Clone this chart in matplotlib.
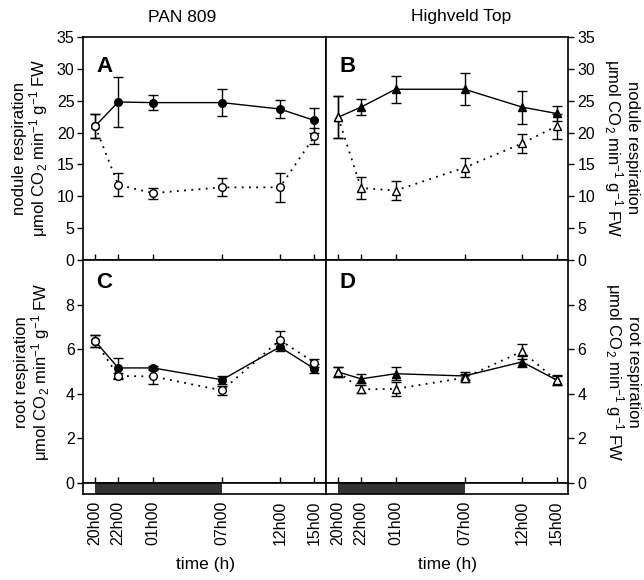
import matplotlib
matplotlib.use('Agg')
import matplotlib.pyplot as plt
from matplotlib.patches import Rectangle

plt.rcParams['font.family'] = ['Liberation Sans', 'DejaVu Sans']
plt.rcParams['mathtext.fontset'] = 'custom'
plt.rcParams['mathtext.rm'] = 'Liberation Sans'
plt.rcParams['mathtext.it'] = 'Liberation Sans:italic'
plt.rcParams['mathtext.bf'] = 'Liberation Sans:bold'

# ---------------- data ----------------
times = ['20h00', '22h00', '01h00', '07h00', '12h00', '15h00']
hours = [0, 2, 5, 11, 16, 19]          # hours after 20h00
dark_period = (0, 11)                   # 20h00 -> 07h00

titles = ['PAN 809', 'Highveld Top']
panel_letters = ['A', 'B', 'C', 'D']

pan_nod_fill = [21.0, 24.8, 24.7, 24.7, 23.7, 21.9]
pan_nod_fill_err = [1.9, 4.0, 1.2, 2.1, 1.35, 1.9]
pan_nod_open = [21.0, 11.8, 10.5, 11.4, 11.4, 19.4]
pan_nod_open_err = [1.9, 1.8, 0.85, 1.4, 2.3, 1.25]

hv_nod_fill = [22.4, 24.0, 26.8, 26.8, 24.0, 23.0]
hv_nod_fill_err = [3.3, 1.3, 2.1, 2.5, 2.6, 1.15]
hv_nod_open = [22.4, 11.3, 10.9, 14.5, 18.3, 21.0]
hv_nod_open_err = [3.3, 1.7, 1.5, 1.55, 1.5, 1.95]

pan_root_fill = [6.36, 5.16, 5.16, 4.63, 6.10, 5.12]
pan_root_fill_err = [0.27, 0.45, 0.10, 0.17, 0.20, 0.20]
pan_root_open = [6.36, 4.80, 4.78, 4.15, 6.41, 5.40]
pan_root_open_err = [0.27, 0.15, 0.35, 0.20, 0.42, 0.18]

hv_root_fill = [4.98, 4.67, 4.90, 4.80, 5.43, 4.62]
hv_root_fill_err = [0.23, 0.20, 0.30, 0.20, 0.25, 0.22]
hv_root_open = [4.98, 4.20, 4.22, 4.72, 5.90, 4.60]
hv_root_open_err = [0.23, 0.18, 0.30, 0.18, 0.33, 0.20]

nod_label = 'nodule respiration\nμmol CO$_2$ min$^{-1}$ g$^{-1}$ FW'
root_label = 'root respiration\nμmol CO$_2$ min$^{-1}$ g$^{-1}$ FW'

# ---------------- layout ----------------
W, H = 644, 580
fig = plt.figure(figsize=(W / 100, H / 100), dpi=100)


def rect(l, t, r, b):
    return [l / W, 1 - b / H, (r - l) / W, (b - t) / H]


axA = fig.add_axes(rect(83, 37, 326, 260))
axB = fig.add_axes(rect(326, 37, 568, 260))
axC = fig.add_axes(rect(83, 260, 326, 483))
axD = fig.add_axes(rect(326, 260, 568, 483))
stA = fig.add_axes(rect(83, 483, 326, 494))
stB = fig.add_axes(rect(326, 483, 568, 494))

XL = (-1.05, 20.0)
LW = 1.2
FS = 11.5


def draw(ax, yf, ef, yo, eo, marker):
    ax.errorbar(hours, yf, yerr=ef, fmt='-', marker=marker, color='k',
                mfc='k', mec='k', ms=5.5, lw=1.0, capsize=3.5,
                elinewidth=1.0, capthick=1.0, zorder=3, clip_on=False)
    ax.errorbar(hours, yo, yerr=eo, linestyle=(0, (1, 3)), marker=marker,
                color='k', mfc='white', mec='k', ms=5.5, mew=1.0, lw=1.3,
                capsize=3.5, elinewidth=1.0, capthick=1.0, zorder=4,
                clip_on=False)


draw(axA, pan_nod_fill, pan_nod_fill_err, pan_nod_open, pan_nod_open_err, 'o')
draw(axB, hv_nod_fill, hv_nod_fill_err, hv_nod_open, hv_nod_open_err, '^')
draw(axC, pan_root_fill, pan_root_fill_err, pan_root_open, pan_root_open_err, 'o')
draw(axD, hv_root_fill, hv_root_fill_err, hv_root_open, hv_root_open_err, '^')

for ax in (axA, axB, axC, axD):
    ax.set_xlim(*XL)
    ax.set_xticks(hours)
    ax.tick_params(axis='x', direction='in', length=4, width=1.0,
                   labelbottom=False, top=False)
    for s in ax.spines.values():
        s.set_linewidth(LW)

for ax in (axA, axB):
    ax.set_ylim(0, 35)
    ax.set_yticks(range(0, 36, 5))
for ax in (axC, axD):
    ax.set_ylim(0, 10)
    ax.set_yticks([0, 2, 4, 6, 8])

for ax in (axA, axC):
    ax.tick_params(axis='y', direction='out', length=4, width=1.0, pad=2,
                   labelsize=FS, left=True, right=False)
for ax in (axB, axD):
    ax.tick_params(axis='y', direction='out', length=4, width=1.0, pad=3,
                   labelsize=FS, left=False, right=True,
                   labelleft=False, labelright=True)

# panel letters
for ax, let, yy in zip((axA, axB, axC, axD), panel_letters,
                       (0.915, 0.915, 0.945, 0.945)):
    ax.text(0.055, yy, let, transform=ax.transAxes, fontsize=16,
            fontweight='bold', ha='left', va='top')

# light/dark strips
for st in (stA, stB):
    st.set_xlim(*XL)
    st.set_ylim(0, 1)
    st.add_patch(Rectangle((dark_period[0], 0), dark_period[1] - dark_period[0],
                           1, facecolor='#333333', edgecolor='none'))
    st.set_yticks([])
    st.set_xticks(hours)
    st.set_xticklabels(times, rotation=90, fontsize=FS)
    st.tick_params(axis='x', length=0, pad=5)
    for s in st.spines.values():
        s.set_linewidth(LW)

# titles
fig.text(182 / W, 1 - 17 / H, titles[0], ha='center', va='center', fontsize=12.5)
fig.text(461 / W, 1 - 17 / H, titles[1], ha='center', va='center', fontsize=12.5)

# y labels
fig.text(31 / W, 1 - 148 / H, nod_label, rotation=90, ha='center',
         va='center', fontsize=12, linespacing=1.0, multialignment='center')
fig.text(33 / W, 1 - 372 / H, root_label, rotation=90, ha='center',
         va='center', fontsize=12, linespacing=1.0, multialignment='center')
fig.text(621 / W, 1 - 148 / H, nod_label, rotation=270, ha='center',
         va='center', fontsize=12, linespacing=1.0, multialignment='center')
fig.text(622 / W, 1 - 372 / H, root_label, rotation=270, ha='center',
         va='center', fontsize=12, linespacing=1.0, multialignment='center')

# x labels
fig.text(205 / W, 1 - 564 / H, 'time (h)', ha='center', va='center', fontsize=12.5)
fig.text(447 / W, 1 - 564 / H, 'time (h)', ha='center', va='center', fontsize=12.5)

fig.savefig('out.png', dpi=100)
